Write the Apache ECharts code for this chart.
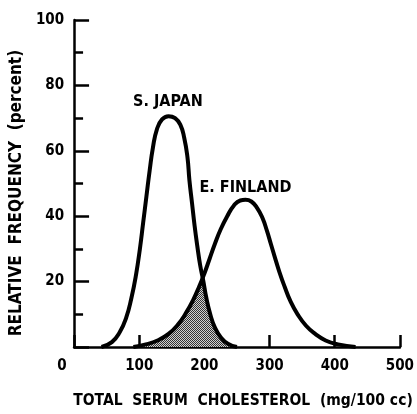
<!DOCTYPE html>
<html><head><meta charset="utf-8">
<script src="https://cdn.jsdelivr.net/npm/echarts@6/dist/echarts.min.js"></script>
<style>html,body{margin:0;padding:0;background:#fff}#c{width:417px;height:414px}</style>
</head><body><div id="c"></div>
<script>
// Data (x: mg/100cc, y: percent)
const japanCurve = [[42,0],[58,1.5],[70,4.5],[80,9],[88,15],[95,22],[101,30],[106,38],[111,46],[116,54],[121,61],[127,66.5],[135,69.6],[145,70.6],[155,70],[163,68],[169,64],[174,58],[177,51],[181,44],[185,37],[189,31],[193.5,25],[198,20.5],[203,15],[209,10],[216,6],[225,3],[236,1],[250,0]];
const finlandCurve = [[91,0],[110,0.8],[128,2],[145,4],[160,7],[172,10.5],[183,14.5],[192,18.5],[200,22.5],[208,27],[216,31.5],[225,36],[235,40],[245,43.2],[255,44.8],[263,45],[272,44.5],[281,42.5],[289,39.5],[296,35.5],[302,31.5],[308,27.5],[315,23],[323,18.5],[332,14],[343,10],[356,6.5],[370,4],[386,2],[405,0.8],[432,0]];
const overlapCurve = [[91,0],[110,0.8],[128,2],[145,4],[160,7],[172,10.5],[183,14.5],[192,18.5],[197.5,21],[203,15],[209,10],[216,6],[225,3],[236,1],[250,0]];
const xTicks = [0,100,200,300,400,500];
const yTicks = [20,40,60,80,100];
const seriesNames = ['S. JAPAN','E. FINLAND'];
const labelAt = [[144,70.6],[263,45]];
const xTitle = 'TOTAL  SERUM  CHOLESTEROL  (mg/100 cc)';
const yTitle = 'RELATIVE  FREQUENCY  (percent)';

const FONT = '"DejaVu Sans Condensed", "DejaVu Sans", sans-serif';
const pc = document.createElement('canvas');
pc.width = 2; pc.height = 2;
const g = pc.getContext('2d');
g.fillStyle = '#d0d0d0'; g.fillRect(0,0,2,2);
g.fillStyle = '#333';
g.fillRect(0,0,1,1); g.fillRect(1,1,1,1);

const chart = echarts.init(document.getElementById('c'), null, {renderer:'canvas'});
chart.setOption({
  animation:false,
  backgroundColor:'#fff',
  grid:{left:73,right:14,top:20,bottom:67},
  xAxis:{type:'value',min:0,max:500,interval:100,
    axisLine:{show:true,lineStyle:{color:'#000',width:2.5}},
    axisTick:{show:true,inside:true,length:12,lineStyle:{color:'#000',width:2.5}},
    splitLine:{show:false},
    axisLabel:{margin:12,color:'#000',fontFamily:FONT,fontWeight:'bold',fontSize:15,
      formatter:v=>xTicks.includes(v)?(v===0?'{z|0}':String(v)):'',
      rich:{z:{padding:[0,24,0,0],color:'#000',fontFamily:FONT,fontWeight:'bold',fontSize:15}}},
    name:xTitle,nameLocation:'middle',nameGap:46,
    nameTextStyle:{color:'#000',fontFamily:FONT,fontSize:15.5,fontWeight:'bold',padding:[0,0,0,12]}
  },
  yAxis:{type:'value',min:0,max:100,interval:20,
    axisLine:{show:true,lineStyle:{color:'#000',width:2.5}},
    axisTick:{show:true,inside:true,length:15,lineStyle:{color:'#000',width:2.5}},
    minorTick:{show:true,splitNumber:2,length:9,lineStyle:{color:'#000',width:2.5}},
    splitLine:{show:false},
    axisLabel:{margin:10,color:'#000',fontFamily:FONT,fontWeight:'bold',fontSize:15,
      formatter:v=>yTicks.includes(v)?String(v):''},
    name:yTitle,nameLocation:'middle',nameGap:38,nameRotate:90,
    nameTextStyle:{color:'#000',fontFamily:FONT,fontSize:17,fontWeight:'bold',padding:[0,0,0,-19]}
  },
  series:[
    {type:'line',data:overlapCurve,smooth:0.5,symbol:'none',silent:true,
      lineStyle:{width:0},areaStyle:{color:{image:pc,repeat:'repeat'},opacity:1},z:1},
    {type:'line',name:seriesNames[0],data:japanCurve,smooth:0.5,symbol:'none',
      lineStyle:{color:'#000',width:4},z:3,
      markPoint:{symbol:'circle',symbolSize:0,data:[{coord:labelAt[0]}],
        label:{show:true,position:'top',distance:6,formatter:seriesNames[0],color:'#000',fontFamily:FONT,fontWeight:'bold',fontSize:16}}},
    {type:'line',name:seriesNames[1],data:finlandCurve,smooth:0.5,symbol:'none',
      lineStyle:{color:'#000',width:4},z:3,
      markPoint:{symbol:'circle',symbolSize:0,data:[{coord:labelAt[1]}],
        label:{show:true,position:'top',distance:4,formatter:seriesNames[1],color:'#000',fontFamily:FONT,fontWeight:'bold',fontSize:16}}}
  ]
});
</script></body></html>
